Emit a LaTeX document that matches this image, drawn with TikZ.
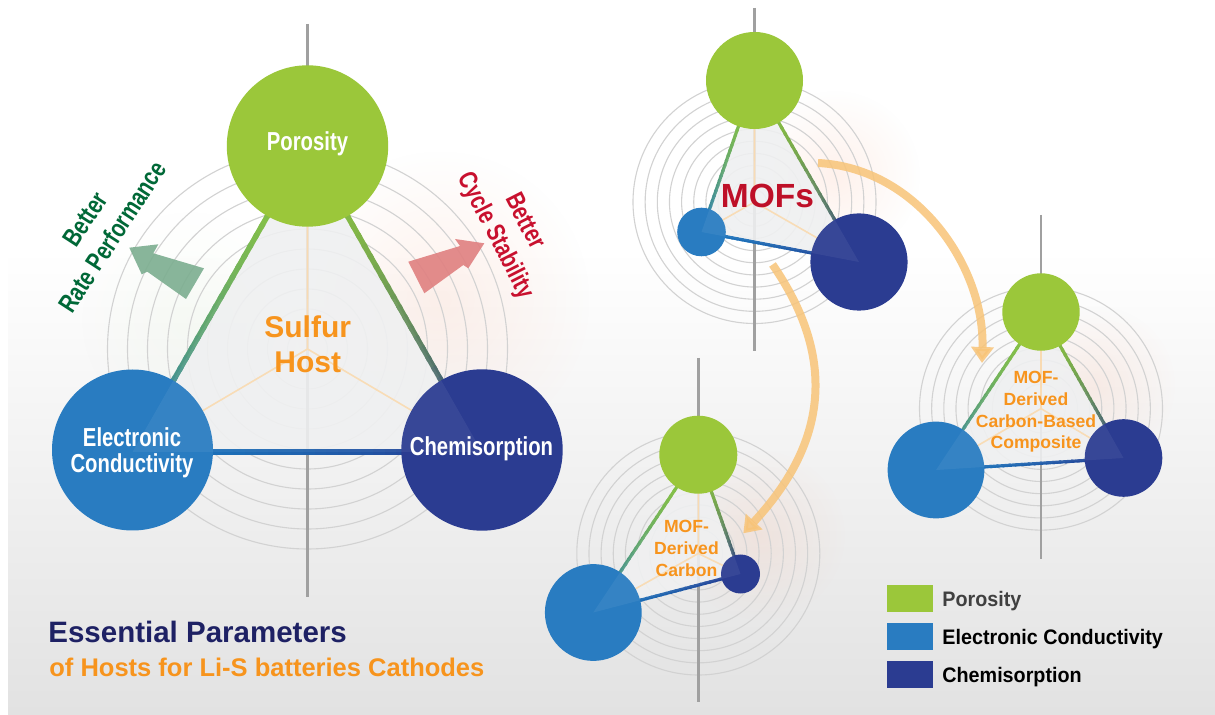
\documentclass[tikz,border=0pt]{standalone}
\usepackage{fontspec}
\setmainfont{Liberation Sans}
\newfontfamily\narrowsans[FakeStretch=0.78]{Liberation Sans}
\newfontfamily\legendsans[FakeStretch=0.94]{Liberation Sans}
\usetikzlibrary{calc,arrows.meta,fadings}

\definecolor{poro}{RGB}{155,199,58}
\definecolor{cond}{RGB}{41,124,193}
\definecolor{chem}{RGB}{43,60,145}
\definecolor{edgegreen}{RGB}{141,198,63}
\definecolor{edgeblue}{RGB}{28,117,188}
\definecolor{edgenavy}{RGB}{38,52,140}
\definecolor{ringgray}{RGB}{210,210,210}
\definecolor{axisgray}{RGB}{160,160,160}
\definecolor{spokeorange}{RGB}{248,218,178}
\definecolor{trigray}{RGB}{239,240,241}
\definecolor{ratefill}{RGB}{124,174,144}
\definecolor{cyclefill}{RGB}{224,128,128}
\definecolor{ratetext}{RGB}{0,104,55}
\definecolor{cycletext}{RGB}{200,16,46}
\definecolor{mofred}{RGB}{190,16,40}
\definecolor{orangetext}{RGB}{247,148,29}
\definecolor{headnavy}{RGB}{30,33,100}
\definecolor{flowcol}{RGB}{248,196,120}
\definecolor{bggray}{RGB}{226,226,226}
\definecolor{glowpink}{RGB}{250,180,150}
\definecolor{glowgreen}{RGB}{200,230,180}

\tikzfading[name=softglow, inner color=transparent!82, outer color=transparent!100]
\tikzfading[name=faintglow, inner color=transparent!90, outer color=transparent!100]

% segmented line whose colour runs from #3 to #4 between coordinates #1 and #2
\newcommand\gradedge[5]{%
  \foreach \k in {1,...,30}{%
    \pgfmathtruncatemacro\pc{100*(1-((\k-0.5)/30)^1.8)}%
    \draw[line width=#5, color=#3!\pc!#4]
      ($(#1)!{max(0,(\k-1)/30-0.012)}!(#2)$) -- ($(#1)!{\k/30}!(#2)$);
  }}

% ten concentric rings around #1, outer radius #2 (px)
\newcommand\radarrings[2]{%
  \foreach \k in {1,...,10}{\draw[ring] (#1) circle ({#2*\k/10});}}

\begin{document}
\begin{tikzpicture}[x=0.5pt,y=-0.5pt,
  ring/.style={draw=ringgray, line width=0.55pt},
  axisline/.style={draw=axisgray, line width=1.2pt},
  trifill/.style={fill=trigray, fill opacity=0.88},
  spoke/.style={draw=spokeorange, line width=0.8pt},
  bubble/.style={circle, inner sep=0pt, draw=none, fill opacity=1},
  circlbl/.style={text=white, align=center, inner sep=0pt,
    font=\narrowsans\bfseries\fontsize{13}{12.8}\selectfont},
  sidetext/.style={align=center, inner sep=0pt,
    font=\narrowsans\bfseries\fontsize{13}{16.25}\selectfont},
  innertext/.style={text=orangetext, align=center, inner sep=0pt,
    font=\bfseries\fontsize{8.8}{10.8}\selectfont},
  flow/.style={draw=flowcol, line width=4pt, opacity=0.85,
    -{Triangle[length=8pt,width=11pt]}},
  legbox/.style={rectangle, inner sep=0pt, minimum width=23pt, minimum height=13.6pt},
  legtext/.style={anchor=base west, inner sep=0pt,
    font=\legendsans\bfseries\fontsize{10.5}{12}\selectfont},
]
\useasboundingbox (0,0) rectangle (1215,715);

% ---------- background ----------
\fill[white] (0,0) rectangle (1215,715);
\shade[top color=white, bottom color=bggray] (8,250) rectangle (1215,715);

% ---------- key coordinates ----------
% main radar
\coordinate (m0) at (307.5,349);
\coordinate (mP) at (307.5,146);
\coordinate (mE) at (132.5,452);
\coordinate (mC) at (482,452);
\coordinate (mAt) at (307.5,24);
\coordinate (mAb) at (307.5,597);
% MOFs radar
\coordinate (a0) at (754.5,202);
\coordinate (aP) at (754.5,80.5);
\coordinate (aE) at (701.5,232);
\coordinate (aC) at (859,262);
\coordinate (aAt) at (754.5,8);
\coordinate (aAb) at (754.5,351);
% MOF-derived carbon radar
\coordinate (b0) at (698.3,553.5);
\coordinate (bP) at (698.3,454.7);
\coordinate (bE) at (593.3,612.5);
\coordinate (bC) at (740.5,574);
\coordinate (bAt) at (698.3,358);
\coordinate (bAb) at (698.3,702);
% MOF-derived composite radar
\coordinate (r0) at (1041,408.6);
\coordinate (rP) at (1041,312);
\coordinate (rE) at (936,470);
\coordinate (rC) at (1123.5,458);
\coordinate (rAt) at (1041,215);
\coordinate (rAb) at (1041,558.6);

% ---------- soft glows ----------
\fill[glowpink, path fading=softglow] (440,300) circle (150);
\fill[glowgreen, path fading=faintglow] (190,320) circle (110);
\fill[glowpink, path fading=softglow] (835,175) circle (85);
\fill[glowpink, path fading=softglow] (760,535) circle (85);
\fill[glowpink, path fading=softglow] (1095,385) circle (80);

% ---------- rings and axes ----------
\radarrings{m0}{200}
\radarrings{a0}{121.5}
\radarrings{b0}{121.5}
\radarrings{r0}{121.5}
\draw[axisline] (mAt) -- (mAb);
\draw[axisline] (aAt) -- (aAb);
\draw[axisline] (bAt) -- (bAb);
\draw[axisline] (rAt) -- (rAb);

% ---------- triangle areas ----------
\fill[trifill] (mP) -- (mE) -- (mC) -- cycle;
\fill[trifill] (aP) -- (aE) -- (aC) -- cycle;
\fill[trifill] (bP) -- (bE) -- (bC) -- cycle;
\fill[trifill] (rP) -- (rE) -- (rC) -- cycle;

\draw[spoke] (m0) -- (mP) (m0) -- (mE) (m0) -- (mC);
\draw[spoke] (a0) -- (aP) (a0) -- (aE) (a0) -- (aC);
\draw[spoke] (b0) -- (bP) (b0) -- (bE) (b0) -- (bC);
\draw[spoke] (r0) -- (rP) (r0) -- (rE) (r0) -- (rC);

% ---------- triangle edges ----------
\gradedge{mP}{mE}{edgegreen}{edgeblue}{2.7pt}
\gradedge{mP}{mC}{edgegreen}{edgenavy}{2.7pt}
\gradedge{mE}{mC}{edgeblue}{edgenavy}{2.7pt}
\gradedge{aP}{aE}{edgegreen}{edgeblue}{1.6pt}
\gradedge{aP}{aC}{edgegreen}{edgenavy}{1.6pt}
\gradedge{aE}{aC}{edgeblue}{edgenavy}{1.6pt}
\gradedge{bP}{bE}{edgegreen}{edgeblue}{1.6pt}
\gradedge{bP}{bC}{edgegreen}{edgenavy}{1.6pt}
\gradedge{bE}{bC}{edgeblue}{edgenavy}{1.6pt}
\gradedge{rP}{rE}{edgegreen}{edgeblue}{1.6pt}
\gradedge{rP}{rC}{edgegreen}{edgenavy}{1.6pt}
\gradedge{rE}{rC}{edgeblue}{edgenavy}{1.6pt}

% ---------- parameter circles ----------
\node[bubble, fill=poro, minimum size=80.7pt] (mPc) at (mP) {};
\node[bubble, fill=cond, minimum size=80.5pt] (mEc) at (132.5,450) {};
\node[bubble, fill=chem, minimum size=80.7pt] (mCc) at (482,450) {};
\node[bubble, fill=poro, minimum size=48.5pt] (aPc) at (aP) {};
\node[bubble, fill=cond, minimum size=24.3pt] (aEc) at (aE) {};
\node[bubble, fill=chem, minimum size=48.6pt] (aCc) at (aC) {};
\node[bubble, fill=poro, minimum size=39pt] (bPc) at (bP) {};
\node[bubble, fill=cond, minimum size=48.4pt] (bEc) at (bE) {};
\node[bubble, fill=chem, minimum size=19.5pt] (bCc) at (bC) {};
\node[bubble, fill=poro, minimum size=38.7pt] (rPc) at (rP) {};
\node[bubble, fill=cond, minimum size=48.4pt] (rEc) at (rE) {};
\node[bubble, fill=chem, minimum size=38.8pt] (rCc) at (rC) {};

% faint sheen of the triangle over the lower circles
\fill[white, opacity=0.06] ($(mP)!0.5!(mE)$) -- (mE) -- (mC) -- ($(mP)!0.5!(mC)$) -- cycle;
\fill[white, opacity=0.06] ($(aP)!0.5!(aE)$) -- (aE) -- (aC) -- ($(aP)!0.5!(aC)$) -- cycle;
\fill[white, opacity=0.06] ($(bP)!0.5!(bE)$) -- (bE) -- (bC) -- ($(bP)!0.5!(bC)$) -- cycle;
\fill[white, opacity=0.06] ($(rP)!0.5!(rE)$) -- (rE) -- (rC) -- ($(rP)!0.5!(rC)$) -- cycle;

% ---------- block arrows ----------
\fill[ratefill, opacity=0.9] (129.3,247.7) -- (158.3,244.3) -- (153.3,253.3) -- (204,268.3)
  -- (186,299) -- (147.3,271.7) -- (141.7,274.3) -- cycle;
\fill[cyclefill, opacity=0.9] (484.3,243.3) -- (455,239) -- (460,246) -- (408.3,261.7)
  -- (424.3,293.3) -- (463.3,265) -- (468.3,268.3) -- cycle;

% ---------- transformation arrows ----------
\coordinate (flowAs) at (818,163);
\coordinate (flowAe) at (982,363);
\coordinate (flowBs) at (772.5,264.5);
\coordinate (flowBe) at (743.3,533.3);
\draw[flow] (flowAs) .. controls (918,168) and (985,268) .. (flowAe);
\draw[flow] (flowBs) .. controls (835,355) and (830,440) .. (flowBe);

% ---------- labels ----------
\node[circlbl, anchor=base] (porolbl) at (307.5,151) {Porosity};
\node[circlbl] (condlbl) at (132,453) {Electronic\\Conductivity};
\node[circlbl, anchor=base] (chemlbl) at (481.5,456) {Chemisorption};

\node[sidetext, text=ratetext, rotate=57] (ratelbl) at (99,228) {Better\\Rate Performance};
\node[sidetext, text=cycletext, rotate=-63] (cyclelbl) at (509.5,228.7) {Better\\Cycle Stability};

\node[text=orangetext, align=center, inner sep=0pt,
  font=\bfseries\fontsize{15}{17.5}\selectfont] (hostlbl) at (307.7,344) {Sulfur\\Host};
\node[text=mofred, inner sep=0pt, font=\bfseries\fontsize{16.75}{19}\selectfont] (moflbl) at (767.5,196) {MOFs};
\node[innertext] (carbonlbl) at (686.5,548.5) {MOF-\\Derived\\Carbon};
\node[innertext] (complbl) at (1036,412) {MOF-\\Derived\\Carbon-Based\\Composite};

\node[anchor=base west, inner sep=0pt, text=headnavy,
  font=\bfseries\fontsize{14.75}{17}\selectfont] (title) at (48,642) {Essential Parameters};
\node[anchor=base west, inner sep=0pt, text=orangetext,
  font=\bfseries\fontsize{12.75}{15}\selectfont] (subtitle) at (49,676) {of Hosts for Li-S batteries Cathodes};

% ---------- legend ----------
\node[legbox, fill=poro] (key1) at (910.3,598.7) {};
\node[legbox, fill=cond] (key2) at (910.3,636.4) {};
\node[legbox, fill=chem] (key3) at (910.3,674.5) {};
\node[legtext, text=black!75] (keytext1) at (942,606.5) {Porosity};
\node[legtext, text=black] (keytext2) at (942,644.5) {Electronic Conductivity};
\node[legtext, text=black] (keytext3) at (942,682.5) {Chemisorption};
\end{tikzpicture}
\end{document}
